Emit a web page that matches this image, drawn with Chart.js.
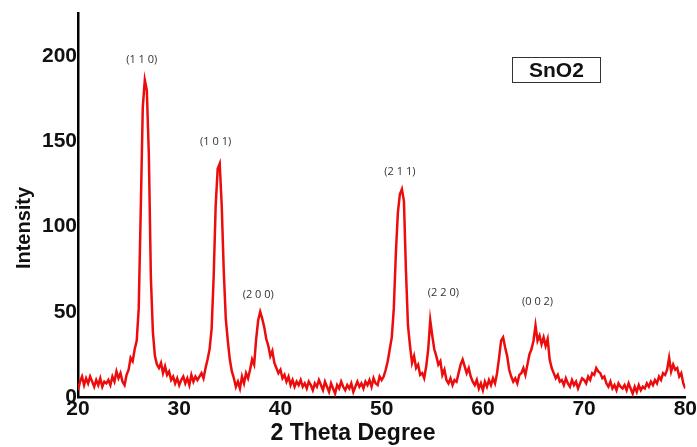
<!DOCTYPE html>
<html>
<head>
<meta charset="utf-8">
<script src="https://cdn.jsdelivr.net/npm/chart.js@4"></script>
<style>
  html, body { margin: 0; padding: 0; background: #fff; }
  canvas { display: block; }
</style>
</head>
<body>
<canvas id="xrd" width="697" height="447"></canvas>
<script>
// 2θ scan positions (deg), one row = 2 degrees
const twoTheta = [
  20.0, 20.2, 20.4, 20.6, 20.8, 21.0, 21.2, 21.4, 21.6, 21.8,
  22.0, 22.2, 22.4, 22.6, 22.8, 23.0, 23.2, 23.4, 23.6, 23.8,
  24.0, 24.2, 24.4, 24.6, 24.8, 25.0, 25.2, 25.4, 25.6, 25.8,
  26.0, 26.2, 26.4, 26.6, 26.8, 27.0, 27.2, 27.4, 27.6, 27.8,
  28.0, 28.2, 28.4, 28.6, 28.8, 29.0, 29.2, 29.4, 29.6, 29.8,
  30.0, 30.2, 30.4, 30.6, 30.8, 31.0, 31.2, 31.4, 31.6, 31.8,
  32.0, 32.2, 32.4, 32.6, 32.8, 33.0, 33.2, 33.4, 33.6, 33.8,
  34.0, 34.2, 34.4, 34.6, 34.8, 35.0, 35.2, 35.4, 35.6, 35.8,
  36.0, 36.2, 36.4, 36.6, 36.8, 37.0, 37.2, 37.4, 37.6, 37.8,
  38.0, 38.2, 38.4, 38.6, 38.8, 39.0, 39.2, 39.4, 39.6, 39.8,
  40.0, 40.2, 40.4, 40.6, 40.8, 41.0, 41.2, 41.4, 41.6, 41.8,
  42.0, 42.2, 42.4, 42.6, 42.8, 43.0, 43.2, 43.4, 43.6, 43.8,
  44.0, 44.2, 44.4, 44.6, 44.8, 45.0, 45.2, 45.4, 45.6, 45.8,
  46.0, 46.2, 46.4, 46.6, 46.8, 47.0, 47.2, 47.4, 47.6, 47.8,
  48.0, 48.2, 48.4, 48.6, 48.8, 49.0, 49.2, 49.4, 49.6, 49.8,
  50.0, 50.2, 50.4, 50.6, 50.8, 51.0, 51.2, 51.4, 51.6, 51.8,
  52.0, 52.2, 52.4, 52.6, 52.8, 53.0, 53.2, 53.4, 53.6, 53.8,
  54.0, 54.2, 54.4, 54.6, 54.8, 55.0, 55.2, 55.4, 55.6, 55.8,
  56.0, 56.2, 56.4, 56.6, 56.8, 57.0, 57.2, 57.4, 57.6, 57.8,
  58.0, 58.2, 58.4, 58.6, 58.8, 59.0, 59.2, 59.4, 59.6, 59.8,
  60.0, 60.2, 60.4, 60.6, 60.8, 61.0, 61.2, 61.4, 61.6, 61.8,
  62.0, 62.2, 62.4, 62.6, 62.8, 63.0, 63.2, 63.4, 63.6, 63.8,
  64.0, 64.2, 64.4, 64.6, 64.8, 65.0, 65.2, 65.4, 65.6, 65.8,
  66.0, 66.2, 66.4, 66.6, 66.8, 67.0, 67.2, 67.4, 67.6, 67.8,
  68.0, 68.2, 68.4, 68.6, 68.8, 69.0, 69.2, 69.4, 69.6, 69.8,
  70.0, 70.2, 70.4, 70.6, 70.8, 71.0, 71.2, 71.4, 71.6, 71.8,
  72.0, 72.2, 72.4, 72.6, 72.8, 73.0, 73.2, 73.4, 73.6, 73.8,
  74.0, 74.2, 74.4, 74.6, 74.8, 75.0, 75.2, 75.4, 75.6, 75.8,
  76.0, 76.2, 76.4, 76.6, 76.8, 77.0, 77.2, 77.4, 77.6, 77.8,
  78.0, 78.2, 78.4, 78.6, 78.8, 79.0, 79.2, 79.4, 79.6, 79.8,
  80.0
];

// intensity, same rows as twoTheta
const intensity = [
  4, 9, 12, 7, 11, 8, 12, 9, 6, 10,
  7, 11, 6, 9, 8, 10, 7, 12, 9, 15,
  11, 14, 9, 7, 13, 16, 23, 21, 28, 33,
  52, 110, 170, 186, 180, 142, 70, 38, 24, 19,
  17, 20, 14, 18, 13, 15, 10, 12, 8, 11,
  7, 10, 12, 8, 11, 7, 13, 9, 12, 10,
  12, 14, 11, 17, 22, 28, 40, 70, 112, 134,
  137, 112, 74, 46, 33, 22, 15, 11, 6, 9,
  5, 12, 8, 14, 11, 16, 22, 19, 34, 45,
  50, 46, 41, 34, 30, 24, 27, 20, 17, 14,
  16, 11, 13, 9, 12, 7, 10, 6, 9, 7,
  10, 6, 8, 5, 9, 7, 4, 8, 6, 10,
  7, 4, 9, 6, 3, 8, 5, 2, 7, 5,
  9, 6, 4, 7, 5, 8, 3, 6, 9, 6,
  8, 5, 9, 7, 10, 6, 11, 8, 7, 12,
  10, 12, 16, 21, 28, 35, 52, 84, 108, 119,
  122, 115, 74, 42, 30, 20, 24, 17, 19, 13,
  14, 11, 18, 28, 45, 36, 28, 24, 19, 21,
  13, 16, 10, 8, 11, 7, 10, 9, 14, 19,
  22, 18, 14, 17, 12, 9, 7, 10, 5, 8,
  4, 9, 6, 10, 7, 11, 8, 14, 23, 33,
  35, 29, 24, 16, 12, 9, 11, 8, 13, 14,
  17, 13, 19, 25, 28, 33, 42, 33, 36, 31,
  35, 30, 34, 22, 17, 14, 11, 13, 9, 10,
  7, 11, 8, 6, 10, 7, 9, 5, 8, 11,
  10, 8, 12, 10, 14, 13, 17, 15, 14, 11,
  12, 8, 6, 9, 5, 7, 4, 8, 6, 5,
  7, 4, 8, 5, 2, 6, 3, 7, 4, 6,
  5, 8, 6, 9, 7, 10, 8, 12, 10, 14,
  13, 16, 23, 15, 19, 16, 17, 12, 14, 8,
  5
];

// axis ticks
const xTicks = [20, 30, 40, 50, 60, 70, 80];
const yTicks = [0, 50, 100, 150, 200];

// (hkl) peak labels, anchored in data units
const hklText = ['(1 1 0)', '(1 0 1)', '(2 0 0)', '(2 1 1)', '(2 2 0)', '(0 0 2)'];
const hklX = [26.3, 33.6, 37.8, 51.8, 56.1, 65.4];
const hklY = [198, 150, 60, 132, 61, 56];

const sampleName = 'SnO2';

const points = twoTheta.map((t, i) => ({ x: t, y: intensity[i] }));

// labels, sample box and axis titles
const decorPlugin = {
    id: 'decor',
    afterDraw(chart) {
        const ctx = chart.ctx;
        const xs = chart.scales.x;
        const ys = chart.scales.y;
        ctx.save();

        // peak labels
        ctx.fillStyle = '#333';
        ctx.font = '11px "Open Sans", sans-serif';
        ctx.textAlign = 'center';
        ctx.textBaseline = 'middle';
        hklText.forEach((txt, i) => {
            ctx.fillText(txt, xs.getPixelForValue(hklX[i]), ys.getPixelForValue(hklY[i]));
        });

        // sample name box
        ctx.strokeStyle = '#333';
        ctx.lineWidth = 1;
        ctx.strokeRect(512.5, 57.5, 88, 25);
        ctx.fillStyle = '#111';
        ctx.font = 'bold 21px "Liberation Sans", Arial, sans-serif';
        ctx.textAlign = 'left';
        ctx.fillText(sampleName, 529, 71);

        // axis titles
        ctx.font = 'bold 23px "Liberation Sans", Arial, sans-serif';
        ctx.textAlign = 'center';
        ctx.fillText('2 Theta Degree', 353, 434);

        ctx.translate(24, 228);
        ctx.rotate(-Math.PI / 2);
        ctx.font = 'bold 20px "Liberation Sans", Arial, sans-serif';
        ctx.fillText('Intensity', 0, 0);
        ctx.restore();
    }
};

new Chart(document.getElementById('xrd'), {
    type: 'line',
    data: {
        datasets: [{
            data: points,
            borderColor: 'rgb(236, 12, 12)',
            borderWidth: 2.5,
            pointRadius: 0,
            tension: 0,
            fill: false
        }]
    },
    options: {
        responsive: false,
        animation: false,
        layout: { padding: { top: 13, right: 11, left: 0, bottom: 0 } },
        plugins: {
            legend: { display: false },
            tooltip: { enabled: false }
        },
        scales: {
            x: {
                type: 'linear',
                min: 20,
                max: 80,
                afterBuildTicks: s => { s.ticks = xTicks.map(v => ({ value: v })); },
                afterFit: s => { s.height = 50; },
                grid: { display: false, drawTicks: false },
                border: { display: true, color: '#000', width: 2.5 },
                ticks: {
                    padding: 0,
                    maxRotation: 0,
                    color: '#111',
                    font: { family: '"Liberation Sans", Arial, sans-serif', size: 21, weight: 'bold' }
                }
            },
            y: {
                min: 0,
                max: 225,
                afterBuildTicks: s => { s.ticks = yTicks.map(v => ({ value: v })); },
                afterFit: s => { s.width = 78; },
                grid: { display: false, drawTicks: false },
                border: { display: true, color: '#000', width: 2.5 },
                ticks: {
                    padding: 1,
                    color: '#111',
                    font: { family: '"Liberation Sans", Arial, sans-serif', size: 21, weight: 'bold' }
                }
            }
        }
    },
    plugins: [decorPlugin]
});
</script>
</body>
</html>
